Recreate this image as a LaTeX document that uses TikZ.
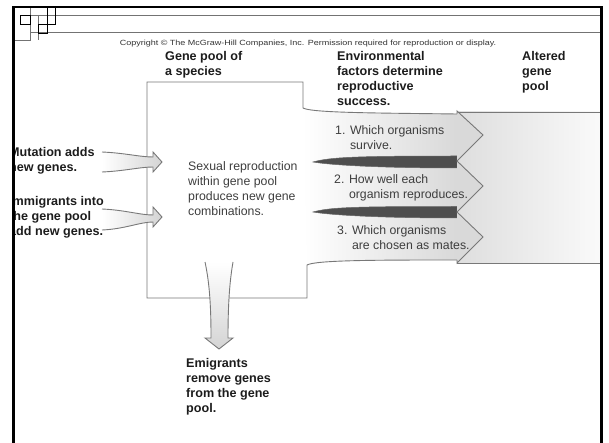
\documentclass[tikz,border=0pt]{standalone}
\usepackage{fontspec}
\setmainfont{Liberation Sans}
\usepackage{tikz}
\definecolor{edge}{RGB}{120,120,120}
\definecolor{wedge}{RGB}{78,78,78}
\definecolor{ink}{RGB}{28,28,28}
\definecolor{soft}{RGB}{62,62,62}
\tikzstyle{headtext} = [font=\fontsize{12.6}{14.8}\selectfont\bfseries, text=ink, align=left, anchor=north west, inner sep=0pt]
\tikzstyle{bodytext} = [font=\fontsize{12.3}{14.8}\selectfont, text=soft, align=left, anchor=north west, inner sep=0pt]
\tikzstyle{edgeline} = [draw=edge, line width=0.9pt]
\tikzstyle{frameline} = [draw=black, line width=2.8pt]
\tikzstyle{thinline} = [draw=black!55, line width=0.8pt]
\tikzstyle{deco} = [draw=black, line width=0.8pt]

\begin{document}
\begin{tikzpicture}[x=1pt, y=-1pt]

\useasboundingbox (0,0) rectangle (609,443);

\shade[left color=black!13, right color=black!2] (457,112) rectangle (602,263);
\draw[edgeline] (457,112) -- (602,112);
\draw[edgeline] (457,263) -- (602,263);

\shade[left color=white, right color=black!15] (303,108) .. controls (312,113) and (380,113) .. (457,114) -- (457,260) .. controls (380,260) and (316,260) .. (307,265) -- cycle;

\filldraw[fill=wedge, draw=black!60, line width=0.5pt] (313,162) .. controls (330,157) and (360,156) .. (457,156) -- (457,168) .. controls (380,168) and (330,165) .. cycle;
\filldraw[fill=wedge, draw=black!60, line width=0.5pt] (313,212) .. controls (330,207) and (360,206.5) .. (457,206.5) -- (457,218) .. controls (380,218) and (330,215) .. cycle;

\fill[black!15] (457,111) -- (483,135) -- (457,161) -- cycle;
\fill[black!15] (457,161) -- (483,186) -- (457,212) -- cycle;
\fill[black!15] (457,212) -- (483,237) -- (457,263) -- cycle;
\draw[edgeline] (457,114) -- (457,111) -- (483,135) -- (457,161) -- (483,186) -- (457,212) -- (483,237) -- (457,263) -- (457,260);

\draw[edgeline] (457,114) .. controls (380,113) and (312,113) .. (303,108) -- (303,82) -- (147,82) -- (147,298) -- (307,298) -- (307,265) .. controls (316,260) and (380,260) .. (457,260);

\shadedraw[top color=white, bottom color=black!17, edgeline] (205,262) .. controls (210,285) and (211,310) .. (211,338) -- (205,338) -- (219,349) -- (233,338) -- (228,338) .. controls (228,310) and (229,285) .. (233,262);

\shadedraw[left color=white, right color=black!17, edgeline] (102,152) .. controls (125,153) and (140,157) .. (153,157) -- (153,152) -- (162,162) -- (153,172) -- (153,167) .. controls (140,167) and (125,171) .. (102,172);
\shadedraw[left color=white, right color=black!17, edgeline] (102,209) .. controls (125,210) and (140,215) .. (153,215) -- (153,207) -- (162,217) -- (153,227) -- (153,222) .. controls (140,222) and (125,229) .. (102,230);

\node[font=\fontsize{7.5}{9}\selectfont, text=black!80, inner sep=0pt] (copy) at (308,44) {\scalebox{1.2}[1]{Copyright © The McGraw-Hill Companies, Inc. Permission required for reproduction or display.}};

\node[headtext] (gene) at (165,51.5) {Gene pool of\\a species};
\node[headtext] (env) at (337,51.5) {Environmental\\factors determine\\reproductive\\success.};
\node[headtext] (alt) at (522,51.5) {Altered\\gene\\pool};
\node[headtext] (mut) at (9,147.5) {Mutation adds\\new genes.};
\node[headtext] (imm) at (9,196.5) {Immigrants into\\the gene pool\\add new genes.};
\node[headtext] (emi) at (186,358.5) {Emigrants\\remove genes\\from the gene\\pool.};

\node[bodytext] (sex) at (188,161.5) {Sexual reproduction\\within gene pool\\produces new gene\\combinations.};
\node[bodytext] (one) at (335,125.5) {1. Which organisms\\\hphantom{1. }survive.};
\node[bodytext] (two) at (334,174.5) {2. How well each\\\hphantom{2. }organism reproduces.};
\node[bodytext] (three) at (337,225.5) {3. Which organisms\\\hphantom{3. }are chosen as mates.};

\fill[white] (0,0) rectangle (12,443);
\fill[white] (603.5,0) rectangle (609,443);
\draw[thinline] (30,15) -- (602,15);
\draw[thinline] (30,32) -- (602,32);
\draw[thinline] (30,7) -- (30,40) -- (13,40);
\draw[thinline] (38,15) -- (38,40);
\draw[deco] (20,15) rectangle (30,24);
\draw[deco] (47,7) rectangle (55,24);
\draw[deco] (38,24) rectangle (47,33);
\draw[frameline] (12,7) -- (603,7);
\draw[frameline] (13.4,7) -- (13.4,443);
\draw[frameline] (601.8,7) -- (601.8,443);

\end{tikzpicture}
\end{document}
